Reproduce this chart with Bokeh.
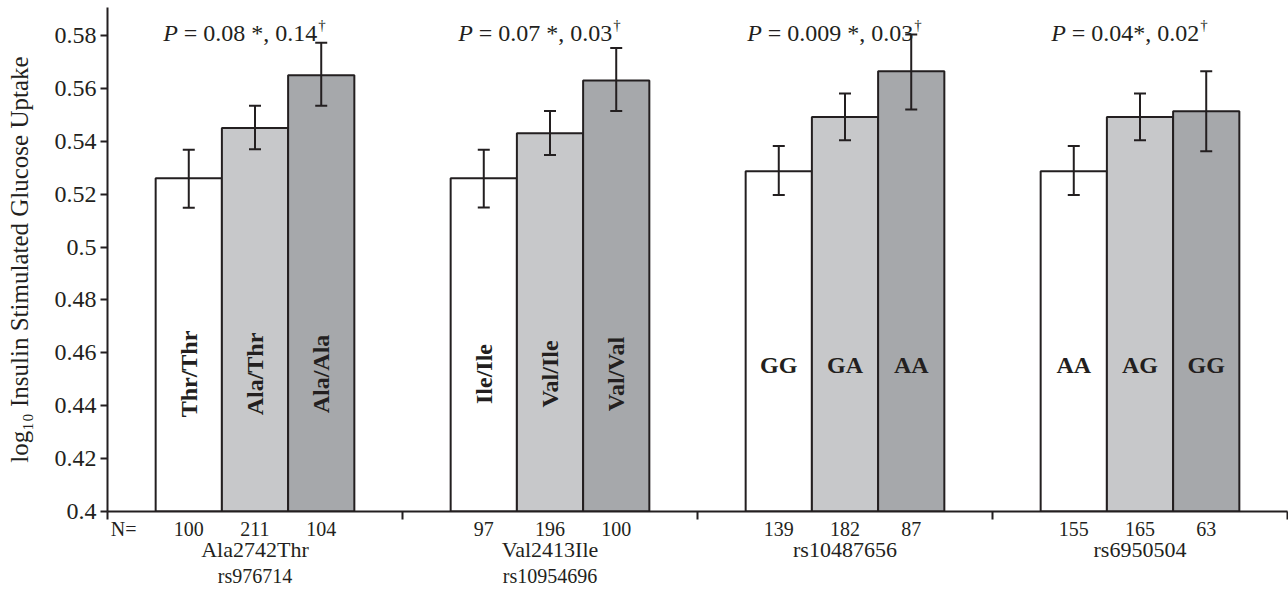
import math
from bokeh.plotting import figure
from bokeh.models import (ColumnDataSource, Range1d, FixedTicker, CustomJSTickFormatter,
                          Whisker, TeeHead, Label, LinearAxis)
from bokeh.core.properties import value
from bokeh.embed import file_html
from bokeh.resources import INLINE

# ---------------- data ----------------
groups = ["Ala2742Thr", "Val2413Ile", "rs10487656", "rs6950504"]
rs_ids = ["rs976714", "rs10954696", "", ""]
genotypes = [["Thr/Thr", "Ala/Thr", "Ala/Ala"],
             ["Ile/Ile", "Val/Ile", "Val/Val"],
             ["GG", "GA", "AA"],
             ["AA", "AG", "GG"]]
means = [[0.526, 0.545, 0.565],
         [0.526, 0.543, 0.563],
         [0.5287, 0.5492, 0.5665],
         [0.5287, 0.5492, 0.5514]]
err_upper = [[0.5368, 0.5534, 0.5773],
             [0.5368, 0.5515, 0.5753],
             [0.5382, 0.5581, 0.5804],
             [0.5382, 0.5581, 0.5665]]
err_lower = [[0.5149, 0.5370, 0.5534],
             [0.5150, 0.5348, 0.5515],
             [0.5197, 0.5404, 0.5520],
             [0.5197, 0.5404, 0.5362]]
counts = [[100, 211, 104],
          [97, 196, 100],
          [139, 182, 87],
          [155, 165, 63]]
p_values = ["0.08 *, 0.14", "0.07 *, 0.03", "0.009 *, 0.03", "0.04*, 0.02"]
y_ticks = [0.4, 0.42, 0.44, 0.46, 0.48, 0.5, 0.52, 0.54, 0.56, 0.58]
y_title = "log\u2081\u2080 Insulin Stimulated Glucose Uptake"

# ---------------- style ----------------
FONT = "Liberation Serif"
INK = "#231f20"
bar_colors = ["#ffffff", "#c7c8ca", "#a6a8ab"]
vertical_labels = [True, True, False, False]
Y_MIN, Y_MAX = 0.4, 0.5906
BAR_W = 0.2245
N_POS = 0.055

xs, tops, ups, lows, cols = [], [], [], [], []
vx, vt, hx, ht = [], [], [], []
cnt_pos, cnt_lab = [N_POS], ["N="]
for gi in range(len(groups)):
    for k in range(3):
        x = gi + 0.5 + (k - 1) * BAR_W
        xs.append(x)
        tops.append(means[gi][k])
        ups.append(err_upper[gi][k])
        lows.append(err_lower[gi][k])
        cols.append(bar_colors[k])
        cnt_pos.append(x)
        cnt_lab.append(str(counts[gi][k]))
        if vertical_labels[gi]:
            vx.append(x); vt.append(genotypes[gi][k])
        else:
            hx.append(x); ht.append(genotypes[gi][k])

src = ColumnDataSource(dict(x=xs, mean=tops, upper=ups, lower=lows, color=cols))

p = figure(width=1288, height=589, x_range=Range1d(0, len(groups)),
           y_range=Range1d(Y_MIN, Y_MAX), output_backend="svg", toolbar_location=None,
           min_border_left=107, min_border_right=1, min_border_top=7, min_border_bottom=78)
p.grid.visible = False
p.outline_line_color = None
p.background_fill_color = "white"
p.border_fill_color = "white"

p.vbar(x="x", width=BAR_W, bottom=Y_MIN, top="mean", source=src,
       fill_color="color", line_color=INK, line_width=2)

p.add_layout(Whisker(source=src, base="x", upper="upper", lower="lower",
                     line_color=INK, line_width=2, level="overlay",
                     upper_head=TeeHead(size=12, line_color=INK, line_width=2),
                     lower_head=TeeHead(size=12, line_color=INK, line_width=2)))

# genotype labels inside bars
p.text(x=vx, y=[0.452] * len(vx), text=vt, angle=math.pi / 2,
       text_font=value(FONT), text_font_style="bold", text_font_size="24px",
       text_align="center", text_baseline="middle", text_color=INK)
p.text(x=hx, y=[0.4553] * len(hx), text=ht, angle=0,
       text_font=value(FONT), text_font_style="bold", text_font_size="24px",
       text_align="center", text_baseline="middle", text_color=INK)

LOOKUP = """
for (let i = 0; i < pos.length; i++) {
  if (Math.abs(pos[i] - tick) < 1e-6) return labs[i];
}
return "";
"""


def style_plain_axis(ax, size):
    ax.major_tick_out = 0
    ax.major_tick_in = 0
    ax.minor_tick_out = 0
    ax.minor_tick_in = 0
    ax.major_label_text_font = FONT
    ax.major_label_text_font_size = size
    ax.major_label_text_color = INK


# main x axis: counts as labels, group boundaries as (minor) tick marks
xa = p.xaxis[0]
xa.ticker = FixedTicker(ticks=cnt_pos, minor_ticks=list(range(len(groups) + 1)))
xa.formatter = CustomJSTickFormatter(args=dict(pos=cnt_pos, labs=cnt_lab), code=LOOKUP)
style_plain_axis(xa, "20px")
xa.minor_tick_out = 8
xa.minor_tick_line_width = 2
xa.minor_tick_line_color = INK
xa.axis_line_width = 2
xa.axis_line_color = INK
xa.major_label_standoff = -2

# group name axis
g_pos = [gi + 0.5 for gi in range(len(groups))]
ga = LinearAxis(ticker=FixedTicker(ticks=g_pos),
                formatter=CustomJSTickFormatter(args=dict(pos=g_pos, labs=groups), code=LOOKUP))
style_plain_axis(ga, "22px")
ga.axis_line_color = None
ga.major_label_standoff = -6
p.add_layout(ga, "below")

# rs id axis
r_pos = [gi + 0.5 for gi in range(len(groups)) if rs_ids[gi]]
r_lab = [r for r in rs_ids if r]
ra = LinearAxis(ticker=FixedTicker(ticks=r_pos),
                formatter=CustomJSTickFormatter(args=dict(pos=r_pos, labs=r_lab), code=LOOKUP))
style_plain_axis(ra, "20px")
ra.axis_line_color = None
ra.major_label_standoff = 0
p.add_layout(ra, "below")

# y axis
ya = p.yaxis[0]
ya.ticker = FixedTicker(ticks=y_ticks)
ya.formatter = CustomJSTickFormatter(code="return String(Math.round(tick*1000)/1000);")
ya.major_label_text_font = FONT
ya.major_label_text_font_size = "24px"
ya.major_label_text_color = INK
ya.major_tick_out = 7
ya.major_tick_in = 0
ya.minor_tick_out = 0
ya.minor_tick_in = 0
ya.axis_line_width = 2
ya.axis_line_color = INK
ya.major_tick_line_width = 2
ya.major_tick_line_color = INK
ya.major_label_standoff = 4
ya.axis_label = y_title
ya.axis_label_text_font = FONT
ya.axis_label_text_font_style = "normal"
ya.axis_label_text_font_size = "25px"
ya.axis_label_text_color = INK
ya.axis_label_standoff = 19

# P-value annotations: italic P, regular text, superscript dagger
W = {' ': 250, '=': 564, '.': 250, '*': 500, ',': 250}
for d in "0123456789":
    W[d] = 500
FS = 24
DFS = 15
for gi, pv in enumerate(p_values):
    main = "= " + pv
    w_p = 611 * FS / 1000
    w_sp = 250 * FS / 1000
    w_main = sum(W[c] for c in main) * FS / 1000
    w_dag = 500 * DFS / 1000
    start = -(w_p + w_sp + w_main + w_dag) / 2 - 11
    common = dict(x=gi + 0.5, y=Y_MAX, text_font=FONT, text_color=INK,
                  text_align="left", text_baseline="alphabetic")
    p.add_layout(Label(x_offset=start, y_offset=-25, text="P", text_font_size=f"{FS}px",
                       text_font_style="italic", **common))
    p.add_layout(Label(x_offset=start + w_p + w_sp, y_offset=-25, text=main,
                       text_font_size=f"{FS}px", **common))
    p.add_layout(Label(x_offset=start + w_p + w_sp + w_main + 1, y_offset=-17, text="\u2020",
                       text_font_size=f"{DFS}px", **common))

open("out.html", "w").write(file_html(p, INLINE))
